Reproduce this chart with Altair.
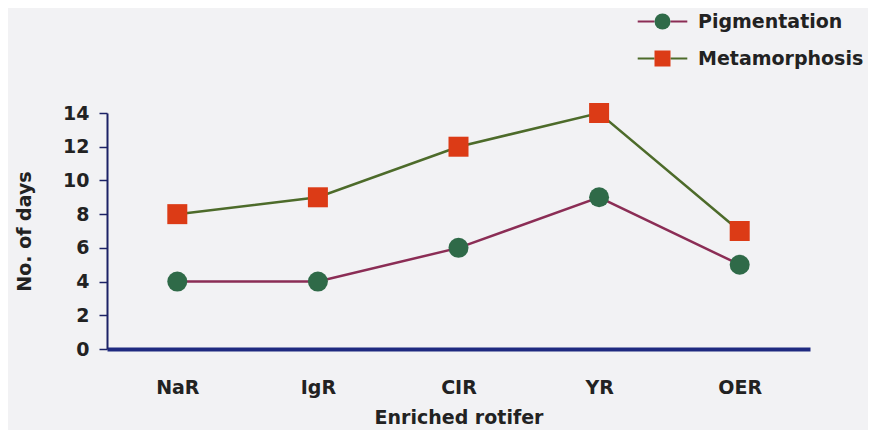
import altair as alt
import pandas as pd

categories = ["NaR", "IgR", "CIR", "YR", "OER"]
pigmentation = [4, 4, 6, 9, 5]
metamorphosis = [8, 9, 12, 14, 7]
series_names = ["Pigmentation", "Metamorphosis"]
line_colors = ["#8b2d55", "#4d6b2a"]
marker_colors = ["#2f6a48", "#dc3b16"]
marker_shapes = ["circle", "square"]
y_ticks = [0, 2, 4, 6, 8, 10, 12, 14]

rows = []
for name, vals in zip(series_names, [pigmentation, metamorphosis]):
    for c, v in zip(categories, vals):
        rows.append({"rotifer": c, "days": v, "series": name, "marker": name})
df = pd.DataFrame(rows)

FONT = "DejaVu Sans"
TEXT = "#222222"
NAVY = "#1c2266"

x = alt.X(
    "rotifer:N", sort=categories,
    scale=alt.Scale(type="point", padding=0.5),
    axis=alt.Axis(title="Enriched rotifer", labelAngle=0, ticks=False, tickSize=0,
                  labelPadding=29, titlePadding=11, domainColor="#1f2a80",
                  domainWidth=4, grid=False),
)
y = alt.Y(
    "days:Q",
    scale=alt.Scale(domain=[0, 14], nice=False, zero=True),
    axis=alt.Axis(title="No. of days", values=y_ticks, tickSize=8, tickColor=NAVY,
                  tickWidth=1.5, labelPadding=10, titlePadding=28, domainColor=NAVY,
                  domainWidth=2, grid=False),
)

leg_common = dict(orient="none", legendX=546, legendY=-101, title=None, symbolSize=256,
                  labelFont=FONT, labelFontSize=19, labelFontWeight="bold",
                  labelColor=TEXT, labelOffset=26, rowPadding=17, padding=0,
                  labelLimit=400)

lines = alt.Chart(df).mark_line(strokeWidth=2.5).encode(
    x=x, y=y,
    stroke=alt.Stroke("series:N", sort=series_names,
                      scale=alt.Scale(range=line_colors),
                      legend=alt.Legend(symbolType="M-3.1,0H-1M1,0H3.1", symbolStrokeWidth=2,
                                        labelOpacity=0, **leg_common)),
)

marker_legend = alt.Legend(symbolStrokeWidth=0, symbolStrokeColor="transparent", **leg_common)

points = alt.Chart(df).mark_point(filled=True, size=400, opacity=1, strokeWidth=0).encode(
    x=x, y=y,
    fill=alt.Fill("marker:N", scale=alt.Scale(domain=series_names, range=marker_colors),
                  legend=marker_legend),
    shape=alt.Shape("marker:N", scale=alt.Scale(domain=series_names, range=marker_shapes),
                    legend=marker_legend),
)

chart = alt.layer(lines, points).properties(
    width=703, height=236,
    autosize=alt.AutoSizeParams(type="none"),
    padding={"left": 99, "top": 105, "right": 58, "bottom": 81},
    background="#f2f2f4",
).configure_view(stroke=None).configure_axis(
    labelFont=FONT, labelFontSize=19, labelFontWeight="bold", labelColor=TEXT,
    titleFont=FONT, titleFontSize=19, titleFontWeight="bold", titleColor=TEXT,
)

chart.save("out.html", embed_options={"renderer": "svg", "actions": False})
